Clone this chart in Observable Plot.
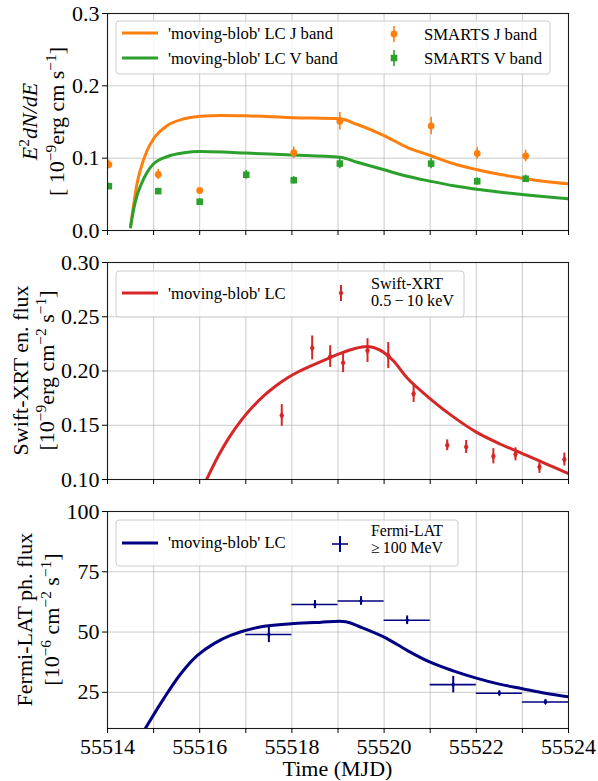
<!DOCTYPE html>
<html><head><meta charset="utf-8">
<script src="https://cdn.jsdelivr.net/npm/d3@7"></script>
<script src="https://cdn.jsdelivr.net/npm/@observablehq/plot@0.6"></script>
<style>
body{margin:0;background:#fff;}
#wrap{position:relative;width:598px;height:781px;font-family:'Liberation Serif','Times New Roman',serif;}
#wrap > svg{position:absolute;left:0;}
#wrap text{font-family:'Liberation Serif','Times New Roman',serif;}
</style></head><body><div id="wrap"></div>
<script>
// ---------- data ----------
const days = d3.range(55514, 55525);
const xDomain = [55514, 55524];

// SMARTS J band
const jT = [55514.03, 55515.1, 55516.0, 55518.04, 55519.04, 55521.02, 55522.02, 55523.07];
const jF = [0.0912, 0.0775, 0.0553, 0.1075, 0.151, 0.1445, 0.1065, 0.103];
const jE = [0.006, 0.007, 0.003, 0.008, 0.012, 0.012, 0.008, 0.008];
// SMARTS V band
const vT = [55514.03, 55515.1, 55516.0, 55517.01, 55518.04, 55519.04, 55521.02, 55522.02, 55523.07];
const vF = [0.0613, 0.0544, 0.0397, 0.077, 0.0695, 0.0925, 0.0925, 0.068, 0.0715];
const vE = [0.004, 0.004, 0.004, 0.006, 0.005, 0.007, 0.007, 0.005, 0.005];
// model J band
const mJT = [55514.5, 55514.57, 55514.64, 55514.72, 55514.86, 55515.0, 55515.3, 55515.66, 55516.02, 55516.45, 55517.0, 55518.0, 55519.04, 55519.42, 55520.0, 55520.5, 55521.0, 55521.51, 55522.0, 55522.53, 55523.0, 55523.5, 55524.0];
const mJF = [0.005, 0.037, 0.0645, 0.0853, 0.1106, 0.1268, 0.1452, 0.1544, 0.158, 0.159, 0.1585, 0.156, 0.1544, 0.1465, 0.1313, 0.115, 0.1037, 0.0922, 0.0843, 0.0774, 0.0723, 0.0677, 0.0645];
// model V band
const mVT = [55514.5, 55514.57, 55514.64, 55514.72, 55514.86, 55515.0, 55515.3, 55515.66, 55516.02, 55516.5, 55517.0, 55518.0, 55519.04, 55519.42, 55520.0, 55520.5, 55521.0, 55521.51, 55522.0, 55522.53, 55523.0, 55523.5, 55524.0];
const mVF = [0.005, 0.030, 0.0484, 0.0622, 0.0806, 0.0922, 0.1023, 0.1074, 0.1092, 0.1085, 0.107, 0.1045, 0.1013, 0.0944, 0.0839, 0.0751, 0.0682, 0.0618, 0.0571, 0.053, 0.0498, 0.0466, 0.0438];

// Swift-XRT
const xrtT = [55517.78, 55518.44, 55518.83, 55519.11, 55519.64, 55520.09, 55520.64, 55521.37, 55521.78, 55522.37, 55522.85, 55523.37, 55523.91];
const xrtF = [0.159, 0.2213, 0.2133, 0.2075, 0.2188, 0.2142, 0.179, 0.1315, 0.130, 0.1214, 0.1232, 0.1116, 0.1184];
const xrtE = [0.010, 0.011, 0.010, 0.009, 0.011, 0.012, 0.008, 0.005, 0.006, 0.007, 0.006, 0.006, 0.006];
// model X-ray
const mXT = [55516.15, 55516.40, 55516.65, 55516.90, 55517.15, 55517.40, 55517.65, 55517.90, 55518.15, 55518.40, 55518.70, 55519.04, 55519.35, 55519.65, 55519.9, 55520.2, 55520.5, 55521.0, 55521.51, 55522.0, 55522.53, 55523.0, 55523.5, 55524.0];
const mXF = [0.100, 0.1215, 0.1395, 0.1545, 0.1670, 0.1775, 0.1862, 0.1935, 0.1995, 0.2045, 0.2100, 0.2160, 0.2205, 0.2225, 0.2195, 0.2095, 0.1935, 0.1744, 0.1575, 0.1437, 0.1325, 0.1239, 0.1147, 0.1055];

// Fermi-LAT
const latT = [55517.5, 55518.5, 55519.5, 55520.5, 55521.5, 55522.5, 55523.5];
const latF = [49.0, 61.4, 62.9, 54.9, 28.2, 24.6, 21.0];
const latE = [3.4, 1.7, 1.8, 1.8, 3.4, 1.0, 1.0];
const latHalf = 0.5;
// model gamma
const mGT = [55514.82, 55515.22, 55515.59, 55515.95, 55516.31, 55516.67, 55517.28, 55518.04, 55518.6, 55519.17, 55519.5, 55520.0, 55520.5, 55521.0, 55521.5, 55522.0, 55522.5, 55523.0, 55523.5, 55524.0];
const mGF = [10, 22.4, 32.7, 40.3, 45.2, 48.6, 52.0, 53.5, 54.0, 54.3, 52.0, 47.9, 42.4, 37.5, 33.9, 30.9, 28.4, 26.5, 24.6, 23.1];

// colors
const cJ = "#ff7f0e", cV = "#2ca02c", cX = "#d62728", cG = "#000080";

// ---------- build tables ----------
const zip = (t, f, e) => t.map((d, i) => ({t: d, f: f[i], e: e ? e[i] : 0}));
const J = zip(jT, jF, jE), V = zip(vT, vF, vE), MJ = zip(mJT, mJF), MV = zip(mVT, mVF);
const X = zip(xrtT, xrtF, xrtE), MX = zip(mXT, mXF);
const L = zip(latT, latF, latE), MG = zip(mGT, mGF);

const FONT = "'Liberation Serif','Times New Roman',serif";
const wrap = document.getElementById("wrap");

function panel({top, height, marginTop, marginBottom, yDomain, yTicks, yFormat, xLabels, marks}) {
  const svg = Plot.plot({
    width: 598, height, marginLeft: 107, marginRight: 30, marginTop, marginBottom,
    style: {fontFamily: FONT, fontSize: "22px", color: "black", background: "transparent", overflow: "visible"},
    x: {domain: xDomain},
    y: {domain: yDomain},
    marks: [
      Plot.gridX(days, {stroke: "#b0b0b0", strokeOpacity: 0.65, strokeWidth: 1}),
      Plot.gridY(yTicks, {stroke: "#b0b0b0", strokeOpacity: 0.65, strokeWidth: 1}),
      ...marks,
      Plot.frame({stroke: "#1a1a1a", strokeWidth: 1.1}),
      Plot.axisX(days, {tickSize: 5, tickPadding: 5, fontSize: 22, fontFamily: FONT, label: null,
        tickFormat: xLabels ? (d => d % 2 === 0 ? String(d) : "") : (() => "")}),
      Plot.axisY(yTicks, {tickSize: 5, tickPadding: 3, fontSize: 22, fontFamily: FONT, label: null, tickFormat: yFormat})
    ]
  });
  svg.style.top = top + "px";
  wrap.appendChild(svg);
}

// top panel: optical
panel({
  top: 0, height: 245, marginTop: 13, marginBottom: 15,
  yDomain: [0, 0.3], yTicks: [0, 0.1, 0.2, 0.3], yFormat: d3.format(".1f"), xLabels: false,
  marks: [
    Plot.line(MJ, {x: "t", y: "f", stroke: cJ, strokeWidth: 3, curve: "monotone-x", clip: true}),
    Plot.line(MV, {x: "t", y: "f", stroke: cV, strokeWidth: 3, curve: "monotone-x", clip: true}),
    Plot.ruleX(J, {x: "t", y1: d => d.f - d.e, y2: d => d.f + d.e, stroke: cJ, strokeWidth: 1.6, clip: true}),
    Plot.dot(J, {x: "t", y: "f", r: 3.4, fill: cJ, symbol: "circle", clip: true}),
    Plot.ruleX(V, {x: "t", y1: d => d.f - d.e, y2: d => d.f + d.e, stroke: cV, strokeWidth: 1.6, clip: true}),
    Plot.dot(V, {x: "t", y: "f", r: 3.7, fill: cV, symbol: "square", clip: true})
  ]
});

// middle panel: X-ray
panel({
  top: 245, height: 250, marginTop: 17, marginBottom: 16,
  yDomain: [0.1, 0.3], yTicks: [0.1, 0.15, 0.2, 0.25, 0.3], yFormat: d3.format(".2f"), xLabels: false,
  marks: [
    Plot.line(MX, {x: "t", y: "f", stroke: cX, strokeWidth: 3, curve: "catmull-rom", clip: true}),
    Plot.ruleX(X, {x: "t", y1: d => d.f - d.e, y2: d => d.f + d.e, stroke: cX, strokeWidth: 2, clip: true}),
    Plot.dot(X, {x: "t", y: "f", r: 2.5, fill: cX, symbol: "diamond", clip: true})
  ]
});

// bottom panel: gamma
panel({
  top: 495, height: 286, marginTop: 16, marginBottom: 53,
  yDomain: [10, 100], yTicks: [25, 50, 75, 100], yFormat: d3.format("d"), xLabels: true,
  marks: [
    Plot.line(MG, {x: "t", y: "f", stroke: cG, strokeWidth: 3, curve: "catmull-rom", clip: true}),
    Plot.ruleY(L, {y: "f", x1: d => d.t - latHalf, x2: d => d.t + latHalf, stroke: cG, strokeWidth: 1.6, clip: true}),
    Plot.ruleX(L, {x: "t", y1: d => d.f - d.e, y2: d => d.f + d.e, stroke: cG, strokeWidth: 2, clip: true}),
    Plot.dot(L, {x: "t", y: "f", r: 2, fill: cG, symbol: "diamond", clip: true})
  ]
});

// ---------- overlay: legends and axis titles ----------
const ov = d3.select(wrap).append("svg")
  .attr("width", 598).attr("height", 781)
  .style("top", "0px").style("pointer-events", "none")
  .attr("font-family", FONT);

function rich(parent, segs, attrs) {
  const t = parent.append("text");
  for (const [k, v] of Object.entries(attrs)) t.attr(k, v);
  for (const s of segs) {
    const sp = t.append("tspan").text(s.t);
    if (s.i) sp.attr("font-style", "italic");
    if (s.sup) sp.attr("baseline-shift", "super").attr("font-size", "0.7em");
  }
  return t;
}
function ylab(x, yc, segs) {
  rich(ov, segs, {transform: `translate(${x},${yc}) rotate(-90)`, "text-anchor": "middle", "font-size": 22});
}
// top
ylab(37, 121.5, [{t: "E", i: 1}, {t: "2", sup: 1}, {t: "dN/dE", i: 1}]);
ylab(64, 121.5, [{t: "[ 10"}, {t: "\u22129", sup: 1}, {t: "erg cm s"}, {t: "\u22121", sup: 1}, {t: "]"}]);
// middle
ylab(28, 370.5, [{t: "Swift-XRT en. flux"}]);
ylab(54, 370.5, [{t: "[10"}, {t: "\u22129", sup: 1}, {t: "erg cm"}, {t: "\u22122", sup: 1}, {t: " s"}, {t: "\u22121", sup: 1}, {t: "]"}]);
// bottom
ylab(31.5, 619.5, [{t: "Fermi-LAT ph. flux"}]);
ylab(58.5, 619.5, [{t: "[10"}, {t: "\u22126", sup: 1}, {t: " cm"}, {t: "\u22122", sup: 1}, {t: " s"}, {t: "\u22121", sup: 1}, {t: "]"}]);

ov.append("text").attr("x", 337.5).attr("y", 776).attr("text-anchor", "middle")
  .attr("font-size", 22).text("Time (MJD)");

function box(x, y, w, h) {
  ov.append("rect").attr("x", x).attr("y", y).attr("width", w).attr("height", h)
    .attr("rx", 3).attr("fill", "white").attr("fill-opacity", 0.8)
    .attr("stroke", "#cccccc").attr("stroke-width", 1);
}
function lsample(y, color) {
  ov.append("line").attr("x1", 122).attr("x2", 158).attr("y1", y).attr("y2", y)
    .attr("stroke", color).attr("stroke-width", 3);
}
function ltext(x, y, s, fs) {
  ov.append("text").attr("x", x).attr("y", y).attr("font-size", fs || 16.7).text(s);
}
function vbar(x, y, h, color, w) {
  ov.append("line").attr("x1", x).attr("x2", x).attr("y1", y - h).attr("y2", y + h)
    .attr("stroke", color).attr("stroke-width", w);
}

// top legend
box(116, 21, 434, 53);
lsample(33, cJ); ltext(168, 38.5, "'moving-blob' LC J band");
lsample(58, cV); ltext(168, 63.5, "'moving-blob' LC V band");
vbar(394, 34, 8, cJ, 1.6);
ov.append("circle").attr("cx", 394).attr("cy", 34).attr("r", 3.4).attr("fill", cJ);
ltext(424, 39.5, "SMARTS J band");
vbar(394, 58, 8, cV, 1.6);
ov.append("rect").attr("x", 394 - 3.3).attr("y", 58 - 3.3).attr("width", 6.6).attr("height", 6.6).attr("fill", cV);
ltext(424, 63.5, "SMARTS V band");

// middle legend
box(116, 271, 348, 46);
lsample(293, cX); ltext(168, 299, "'moving-blob' LC");
vbar(341, 293, 8, cX, 2);
ov.append("path").attr("transform", "translate(341,293)")
  .attr("d", d3.symbol(d3.symbolDiamond, Math.PI * 2.5 * 2.5)()).attr("fill", cX);
ltext(371, 288.5, "Swift-XRT", 16.2);
ltext(371, 306, "0.5\u2009\u2212\u200910 keV", 16.2);

// bottom legend
box(116, 520, 342, 46);
lsample(543, cG); ltext(168, 548, "'moving-blob' LC");
vbar(340, 544, 8, cG, 2);
ov.append("line").attr("x1", 332).attr("x2", 348).attr("y1", 544).attr("y2", 544)
  .attr("stroke", cG).attr("stroke-width", 1.6);
ltext(371, 535.5, "Fermi-LAT", 15.8);
ltext(371, 552.5, "\u2265\u2009100 MeV", 15.8);
</script></body></html>
